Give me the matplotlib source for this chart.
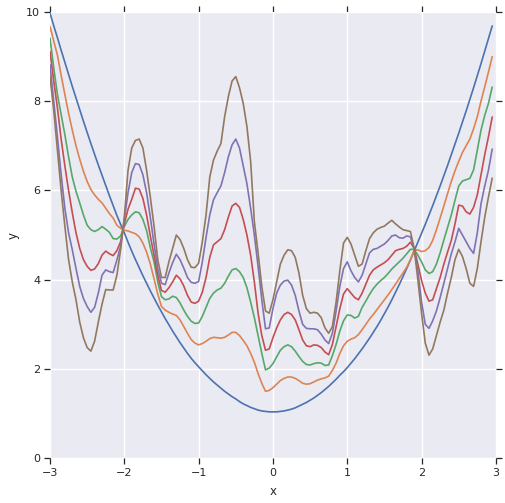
import numpy as np
import matplotlib
matplotlib.use("Agg")
import matplotlib.pyplot as plt

# sample positions along x (step 0.05)
x = np.round(np.arange(-3.0, 2.96, 0.05), 2)

# curves, smooth -> wiggly (10 values per half unit)
blue = [9.97, 9.69, 9.42, 9.14, 8.87, 8.60, 8.33, 8.07, 7.81, 7.55,
        7.30, 7.05, 6.81, 6.57, 6.34, 6.11, 5.88, 5.66, 5.44, 5.24,
        5.05, 4.84, 4.64, 4.45, 4.27, 4.09, 3.92, 3.75, 3.59, 3.43,
        3.28, 3.13, 2.99, 2.85, 2.72, 2.59, 2.47, 2.35, 2.24, 2.14,
        2.05, 1.96, 1.87, 1.79, 1.71, 1.64, 1.57, 1.50, 1.44, 1.38,
        1.33, 1.27, 1.22, 1.18, 1.14, 1.11, 1.08, 1.06, 1.05, 1.04,
        1.04, 1.04, 1.05, 1.06, 1.08, 1.10, 1.13, 1.17, 1.21, 1.25,
        1.30, 1.35, 1.41, 1.47, 1.54, 1.61, 1.69, 1.77, 1.86, 1.94,
        2.03, 2.13, 2.23, 2.34, 2.45, 2.57, 2.69, 2.82, 2.95, 3.09,
        3.24, 3.39, 3.55, 3.72, 3.89, 4.07, 4.25, 4.44, 4.64, 4.84,
        5.04, 5.24, 5.45, 5.66, 5.88, 6.10, 6.33, 6.56, 6.80, 7.04,
        7.28, 7.53, 7.78, 8.04, 8.30, 8.57, 8.84, 9.12, 9.40, 9.68]
orange = [9.67, 9.35, 9.03, 8.58, 8.15, 7.73, 7.35, 7.00, 6.70, 6.43,
          6.20, 6.02, 5.90, 5.80, 5.72, 5.60, 5.48, 5.38, 5.22, 5.15,
          5.11, 5.09, 5.06, 5.03, 4.96, 4.82, 4.62, 4.35, 4.02, 3.68,
          3.40, 3.32, 3.27, 3.23, 3.20, 3.10, 2.95, 2.80, 2.66, 2.58,
          2.54, 2.57, 2.62, 2.68, 2.71, 2.70, 2.69, 2.71, 2.76, 2.82,
          2.82, 2.75, 2.64, 2.52, 2.35, 2.15, 1.90, 1.68, 1.50, 1.52,
          1.58, 1.66, 1.74, 1.79, 1.82, 1.82, 1.79, 1.74, 1.68, 1.66,
          1.67, 1.71, 1.75, 1.78, 1.80, 1.84, 1.97, 2.13, 2.35, 2.52,
          2.62, 2.67, 2.70, 2.77, 2.88, 3.00, 3.12, 3.22, 3.33, 3.44,
          3.55, 3.66, 3.78, 3.90, 4.03, 4.15, 4.28, 4.45, 4.66, 4.67,
          4.63, 4.65, 4.72, 4.88, 5.12, 5.38, 5.65, 5.93, 6.20, 6.44,
          6.65, 6.85, 7.00, 7.15, 7.38, 7.65, 8.00, 8.32, 8.65, 8.99]
green = [9.41, 8.75, 8.15, 7.70, 7.25, 6.75, 6.30, 5.98, 5.72, 5.45,
         5.22, 5.12, 5.08, 5.12, 5.19, 5.13, 5.06, 4.92, 4.91, 4.98,
         5.19, 5.35, 5.45, 5.52, 5.50, 5.35, 5.10, 4.72, 4.40, 3.95,
         3.62, 3.55, 3.57, 3.63, 3.60, 3.48, 3.32, 3.18, 3.07, 3.02,
         3.03, 3.18, 3.38, 3.58, 3.70, 3.77, 3.81, 3.92, 4.08, 4.22,
         4.25, 4.18, 4.05, 3.82, 3.50, 3.15, 2.75, 2.35, 1.98, 2.02,
         2.12, 2.27, 2.42, 2.50, 2.54, 2.50, 2.40, 2.28, 2.17, 2.10,
         2.09, 2.12, 2.14, 2.13, 2.08, 2.09, 2.30, 2.55, 2.85, 3.08,
         3.21, 3.20, 3.14, 3.18, 3.38, 3.52, 3.67, 3.80, 3.90, 3.98,
         4.05, 4.14, 4.24, 4.32, 4.40, 4.48, 4.58, 4.68, 4.68, 4.55,
         4.40, 4.22, 4.14, 4.18, 4.35, 4.60, 4.89, 5.17, 5.45, 5.78,
         6.10, 6.21, 6.24, 6.27, 6.46, 6.90, 7.35, 7.68, 7.95, 8.31]
red = [9.11, 8.45, 7.85, 7.15, 6.55, 6.00, 5.50, 5.05, 4.70, 4.45,
       4.30, 4.21, 4.24, 4.36, 4.55, 4.64, 4.58, 4.54, 4.65, 4.85,
       5.25, 5.58, 5.80, 6.05, 6.03, 5.82, 5.45, 4.98, 4.55, 4.10,
       3.76, 3.72, 3.82, 3.95, 4.10, 4.02, 3.86, 3.65, 3.50, 3.47,
       3.52, 3.72, 4.05, 4.50, 4.78, 4.85, 4.92, 5.12, 5.40, 5.65,
       5.71, 5.62, 5.35, 5.00, 4.55, 3.95, 3.25, 2.75, 2.42, 2.45,
       2.70, 2.92, 3.10, 3.22, 3.27, 3.22, 3.10, 2.88, 2.65, 2.52,
       2.50, 2.54, 2.53, 2.48, 2.38, 2.32, 2.55, 2.95, 3.35, 3.68,
       3.80, 3.70, 3.60, 3.55, 3.70, 3.90, 4.10, 4.22, 4.28, 4.33,
       4.38, 4.45, 4.55, 4.65, 4.68, 4.70, 4.75, 4.84, 4.70, 4.35,
       3.98, 3.70, 3.52, 3.55, 3.80, 4.05, 4.35, 4.62, 4.88, 5.25,
       5.67, 5.65, 5.52, 5.47, 5.62, 5.90, 6.35, 6.80, 7.20, 7.64]
purple = [8.81, 8.00, 7.20, 6.35, 5.60, 5.05, 4.67, 4.25, 3.85, 3.58,
          3.40, 3.27, 3.38, 3.70, 4.10, 4.22, 4.18, 4.16, 4.44, 4.75,
          5.35, 5.95, 6.40, 6.60, 6.58, 6.35, 5.95, 5.40, 4.80, 4.25,
          3.92, 3.89, 4.15, 4.38, 4.57, 4.45, 4.26, 4.05, 3.94, 3.92,
          3.96, 4.40, 4.95, 5.45, 5.79, 5.95, 6.10, 6.40, 6.75, 7.02,
          7.15, 6.95, 6.55, 6.15, 5.60, 5.00, 4.30, 3.55, 2.90, 2.92,
          3.35, 3.70, 3.88, 3.97, 3.99, 3.88, 3.65, 3.30, 3.00, 2.91,
          2.90, 2.90, 2.88, 2.78, 2.65, 2.57, 2.80, 3.30, 3.85, 4.25,
          4.40, 4.20, 4.05, 3.95, 4.10, 4.35, 4.60, 4.68, 4.70, 4.75,
          4.80, 4.88, 4.98, 5.00, 4.94, 4.93, 4.98, 4.96, 4.70, 4.20,
          3.50, 3.00, 2.91, 3.08, 3.30, 3.60, 3.92, 4.25, 4.58, 4.85,
          5.15, 5.00, 4.85, 4.70, 4.59, 5.05, 5.70, 6.10, 6.45, 6.92]
brown = [8.55, 7.80, 6.90, 6.00, 5.20, 4.45, 3.95, 3.55, 3.05, 2.70,
         2.48, 2.40, 2.62, 3.05, 3.45, 3.78, 3.77, 3.77, 4.10, 4.67,
         5.40, 6.45, 6.95, 7.12, 7.15, 6.95, 6.45, 5.85, 5.20, 4.45,
         4.05, 4.05, 4.40, 4.70, 5.00, 4.90, 4.70, 4.45, 4.28, 4.27,
         4.37, 4.85, 5.45, 6.30, 6.68, 6.88, 7.05, 7.65, 8.10, 8.45,
         8.55, 8.30, 7.95, 7.43, 6.65, 5.30, 4.60, 3.85, 3.30, 3.25,
         3.55, 3.95, 4.35, 4.55, 4.67, 4.65, 4.50, 4.15, 3.65, 3.35,
         3.25, 3.27, 3.25, 3.15, 2.92, 2.80, 2.95, 3.50, 4.20, 4.82,
         4.95, 4.80, 4.55, 4.30, 4.35, 4.65, 4.92, 5.05, 5.13, 5.17,
         5.20, 5.27, 5.33, 5.25, 5.18, 5.12, 5.10, 5.08, 4.70, 4.00,
         3.25, 2.58, 2.31, 2.45, 2.75, 3.05, 3.32, 3.70, 4.05, 4.45,
         4.68, 4.52, 4.25, 3.92, 3.85, 4.25, 4.85, 5.40, 5.85, 6.27]

curves = [blue, orange, green, red, purple, brown]
colors = ["#4C72B0", "#DD8452", "#55A868", "#C44E52", "#8172B3", "#937860"]

plt.rcParams["font.family"] = "DejaVu Sans"
fig = plt.figure(figsize=(5.06, 5.03), dpi=100)
ax = fig.add_axes([0.0988, 0.0889, 0.8812, 0.8876])
ax.set_facecolor("#EAEAF2")
for s in ax.spines.values():
    s.set_visible(False)
ax.grid(True, color="white", linewidth=1.0)
ax.set_axisbelow(True)

for ys, c in zip(curves, colors):
    ax.plot(x, ys, color=c, linewidth=1.2)

ax.set_xlim(-3, 3)
ax.set_ylim(0, 10)
ax.set_xticks([-3, -2, -1, 0, 1, 2, 3])
ax.set_yticks([0, 2, 4, 6, 8, 10])
ax.tick_params(direction="out", length=4, width=0.9, top=True, right=True,
               color="#262626", labelcolor="#262626", labelsize=8, pad=3)
ax.set_xlabel("x", fontsize=8.5, color="#262626", labelpad=5)
ax.set_ylabel("y", fontsize=8.5, color="#262626", labelpad=5)

fig.savefig("out.png", dpi=100)
